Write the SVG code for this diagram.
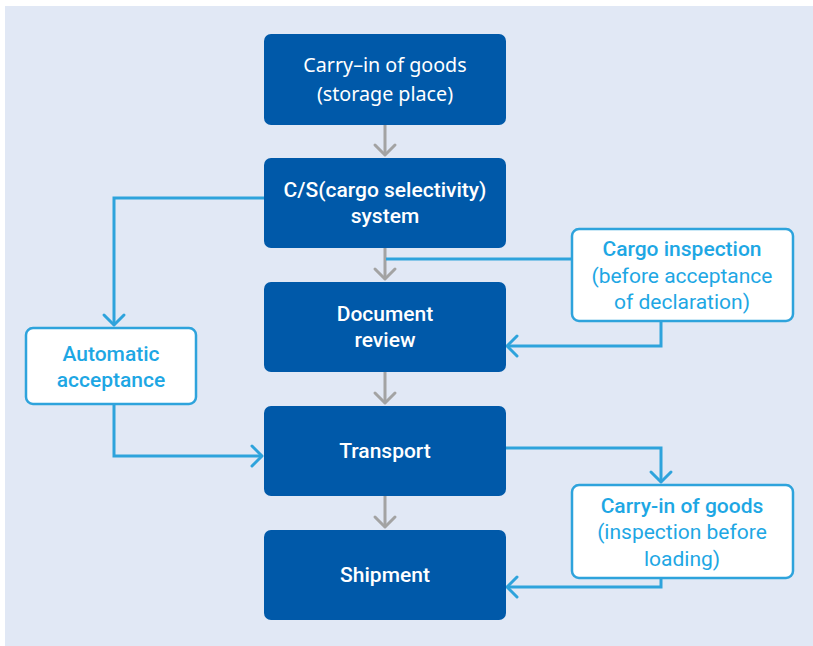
<svg xmlns="http://www.w3.org/2000/svg" width="813" height="646" viewBox="0 0 813 646">
<defs>
<style>
.bg{fill:#E1E8F5}
.dk{fill:#0059A9}
.lt{fill:#FFFFFF;stroke:#2EA3DC;stroke-width:2.5}
.wt{fill:#FFFFFF;font-family:Roboto,"Liberation Sans",sans-serif;font-size:21px;font-weight:500;text-anchor:middle}
.wt1{fill:#FFFFFF;font-family:"Noto Sans","Liberation Sans",sans-serif;font-size:19.7px;font-weight:400;text-anchor:middle}
.bt{fill:#1EA7E4;font-family:Roboto,"Liberation Sans",sans-serif;font-size:21px;font-weight:400;text-anchor:middle}
.bb{font-weight:500}
.gl{fill:none;stroke:#A3A3A3;stroke-width:3}
.bl{fill:none;stroke:#2EA3DC;stroke-width:3}
</style>
<marker id="ag" markerUnits="userSpaceOnUse" markerWidth="26" markerHeight="26" refX="13" refY="13" orient="auto" overflow="visible">
<path d="M3,3 L13,13 L3,23" fill="none" stroke="#A3A3A3" stroke-width="3" stroke-linecap="round" stroke-linejoin="round"/>
</marker>
<marker id="ab" markerUnits="userSpaceOnUse" markerWidth="26" markerHeight="26" refX="13" refY="13" orient="auto" overflow="visible">
<path d="M3,3 L13,13 L3,23" fill="none" stroke="#2EA3DC" stroke-width="3" stroke-linecap="round" stroke-linejoin="round"/>
</marker>
</defs>
<rect class="bg" x="5" y="6" width="808" height="640"/>
<g id="connectors">
<path class="gl" d="M385,125 V155" marker-end="url(#ag)"/>
<path class="gl" d="M385,248 V279" marker-end="url(#ag)"/>
<path class="gl" d="M385,372 V403" marker-end="url(#ag)"/>
<path class="gl" d="M385,496 V527" marker-end="url(#ag)"/>
<path class="bl" d="M264,198 H114 V325" marker-end="url(#ab)"/>
<path class="bl" d="M114,404 V456 H262" marker-end="url(#ab)"/>
<path class="bl" d="M386,259 H572"/>
<path class="bl" d="M661,321 V346 H507" marker-end="url(#ab)"/>
<path class="bl" d="M505,448 H661 V482" marker-end="url(#ab)"/>
<path class="bl" d="M661,578 V587 H507" marker-end="url(#ab)"/>
</g>
<g id="n1"><rect class="dk" x="264" y="34" width="242" height="91" rx="7"/>
<text class="wt1" x="385" y="72">Carry–in of goods</text>
<text class="wt1" x="385" y="101">(storage place)</text></g>
<g id="n2"><rect class="dk" x="264" y="158" width="242" height="90" rx="7"/>
<text class="wt" x="385" y="197">C/S(cargo selectivity)</text>
<text class="wt" x="385" y="223">system</text></g>
<g id="n3"><rect class="dk" x="264" y="282" width="242" height="90" rx="7"/>
<text class="wt" x="385" y="321">Document</text>
<text class="wt" x="385" y="347">review</text></g>
<g id="n4"><rect class="dk" x="264" y="406" width="242" height="90" rx="7"/>
<text class="wt" x="385" y="458">Transport</text></g>
<g id="n5"><rect class="dk" x="264" y="530" width="242" height="90" rx="7"/>
<text class="wt" x="385" y="582">Shipment</text></g>
<g id="n6"><rect class="lt" x="26" y="328" width="170" height="76" rx="7"/>
<text class="bt bb" x="111" y="361">Automatic</text>
<text class="bt bb" x="111" y="387">acceptance</text></g>
<g id="n7"><rect class="lt" x="572" y="229" width="221" height="92" rx="7"/>
<text class="bt bb" x="682" y="256">Cargo inspection</text>
<text class="bt" x="682" y="283">(before acceptance</text>
<text class="bt" x="682" y="309">of declaration)</text></g>
<g id="n8"><rect class="lt" x="572" y="485" width="221" height="93" rx="7"/>
<text class="bt bb" x="682" y="513">Carry-in of goods</text>
<text class="bt" x="682" y="539">(inspection before</text>
<text class="bt" x="682" y="566">loading)</text></g>
</svg>
